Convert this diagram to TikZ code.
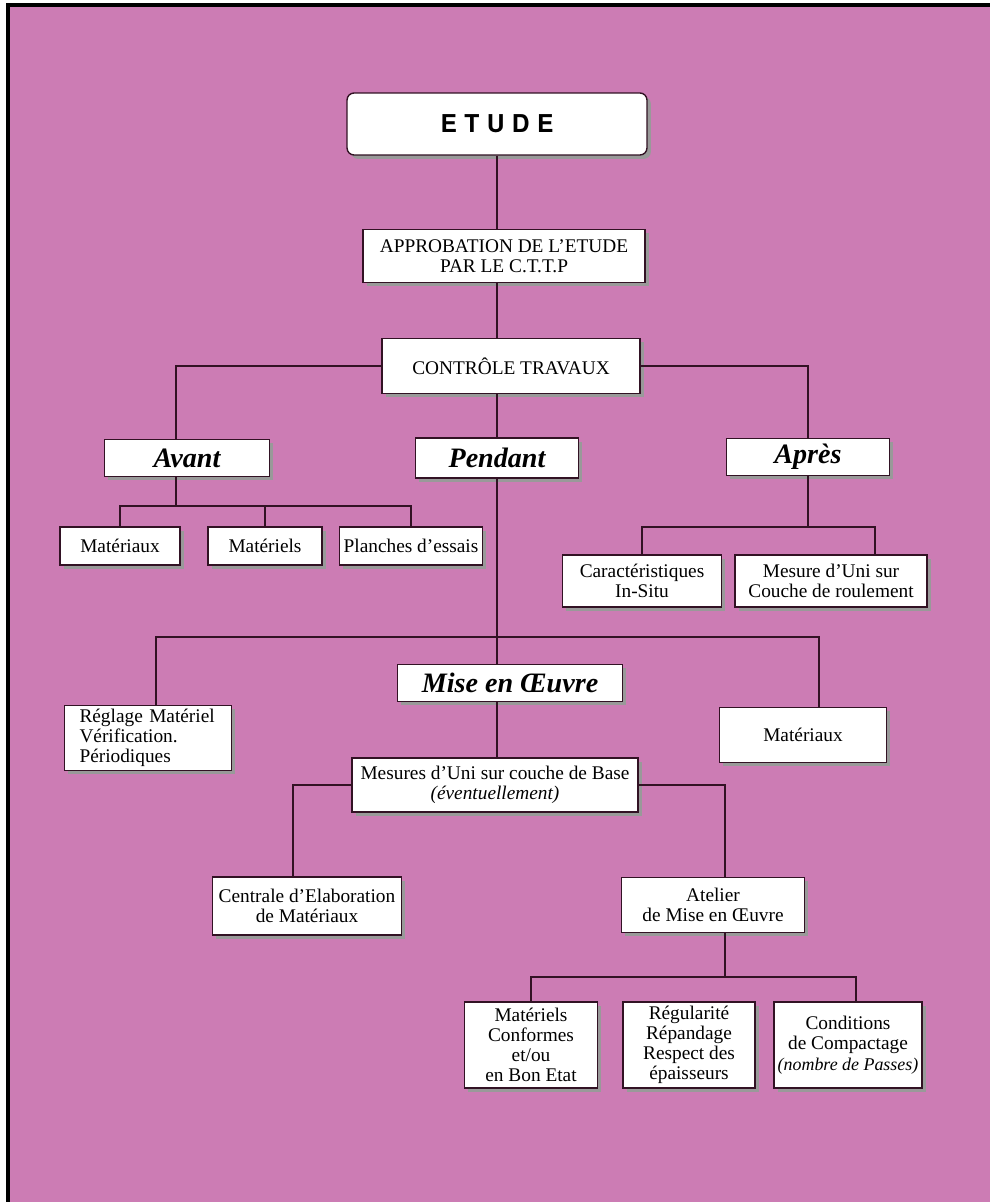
\documentclass[tikz,border=0pt]{standalone}
\usepackage{fontspec}
\setmainfont{Liberation Serif}
\newfontfamily\etudefont[LetterSpace=30]{TeX Gyre Heros}
\usetikzlibrary{positioning, shadows}
\definecolor{bgpink}{RGB}{204,124,180}
\definecolor{linecol}{RGB}{50,18,36}

\begin{document}
\begin{tikzpicture}[x=0.02cm, y=-0.02cm,
  box/.style={draw=linecol, line width=0.8pt, fill=white, align=center, inner sep=2pt,
    font=\fontsize{11}{11.5}\selectfont,
    drop shadow={shadow xshift=2.2pt, shadow yshift=-2.2pt, fill=black!40, opacity=1}},
  phase/.style={box, font=\fontsize{16}{18}\selectfont\bfseries\itshape},
  link/.style={draw=linecol, line width=1.2pt}]
\useasboundingbox (0,0) rectangle (990,1202);
\fill[white] (0,0) rectangle (990,1202);
\fill[bgpink] (8,5) rectangle (990,1202);
\draw[line width=2pt] (8,1202) -- (8,5) -- (990,5);

\node[box, rounded corners=4pt, minimum width=6cm, minimum height=1.24cm] (etude) at (497,124) {\etudefont\bfseries\fontsize{14}{16}\selectfont ETUDE};
\node[box, minimum width=5.64cm, minimum height=1.06cm] (approb) at (504,256) {APPROBATION DE L'ETUDE\\PAR LE C.T.T.P};
\node[box, minimum width=5.16cm, minimum height=1.1cm] (ctrl) at (511,366) {CONTRÔLE TRAVAUX};

\node[phase, minimum width=3.3cm, minimum height=0.74cm] (avant) at (187,458) {Avant};
\node[phase, minimum width=3.26cm, minimum height=0.8cm] (pendant) at (497,458) {Pendant};
\node[phase, minimum width=3.26cm, minimum height=0.74cm] (apres) at (808,457) {Après};

\node[box, minimum width=2.4cm, minimum height=0.76cm] (materiaux1) at (120,546) {Matériaux};
\node[box, minimum width=2.28cm, minimum height=0.76cm] (materiels) at (265,546) {Matériels};
\node[box, minimum width=2.86cm, minimum height=0.76cm] (planches) at (411,546) {Planches d'essais};

\node[box, minimum width=3.18cm, minimum height=1.04cm] (caract) at (642,581) {Caractéristiques\\In-Situ};
\node[box, minimum width=3.84cm, minimum height=1.04cm] (uni) at (831,581) {Mesure d'Uni sur\\Couche de roulement};

\node[phase, minimum width=4.5cm, minimum height=0.74cm] (mise) at (510,683) {Mise en Œuvre};
\node[box, align=left, text width=2.74cm, inner xsep=0.3cm, minimum height=1.14cm] (reglage) at (148,738) {Réglage Matériel\\Vérification.\\Périodiques};
\node[box, minimum width=3.34cm, minimum height=1.1cm] (materiaux2) at (803,735) {Matériaux};

\node[box, minimum width=5.72cm, minimum height=1.08cm] (mesures) at (495,785) {Mesures d'Uni sur couche de Base\\\textit{(éventuellement)}};
\node[box, minimum width=3.78cm, minimum height=1.16cm] (centrale) at (307,906) {Centrale d'Elaboration\\de Matériaux};
\node[box, minimum width=3.66cm, minimum height=1.1cm] (atelier) at (713,905) {Atelier\\de Mise en Œuvre};

\node[box, minimum width=2.66cm, minimum height=1.72cm] (conformes) at (531,1045) {Matériels\\Conformes\\et/ou\\en Bon Etat};
\node[box, minimum width=2.64cm, minimum height=1.72cm] (regularite) at (689,1045) {Régularité\\Répandage\\Respect des\\épaisseurs};
\node[box, minimum width=2.78cm, minimum height=1.72cm] (conditions) at (848,1045) {Conditions\\de Compactage\\{\fontsize{10.2}{11.5}\selectfont\itshape (nombre de Passes)}};

\coordinate (avbar) at (176,506);
\coordinate (apbar) at (808,527);
\coordinate (pebar) at (497,637);
\coordinate (atbar) at (725,977);

\draw[link] (etude.south) -- (etude.south |- approb.north);
\draw[link] (approb.south -| etude.south) -- (ctrl.north -| etude.south);
\draw[link] (ctrl.south -| pendant.north) -- (pendant.north);
\draw[link] (ctrl.west) -| (avant.north -| avbar);
\draw[link] (ctrl.east) -| (apres.north);

\draw[link] (avant.south -| avbar) -- (avbar);
\draw[link] (materiaux1.north) |- (avbar) -| (planches.north);
\draw[link] (materiels.north) -- (materiels.north |- avbar);

\draw[link] (apres.south) -- (apbar);
\draw[link] (caract.north) |- (apbar) -| (uni.north -| 875,0);

\draw[link] (pendant.south) -- (mise.north -| pendant.south);
\draw[link] (mise.south -| pendant.south) -- (mesures.north -| pendant.south);
\draw[link] (reglage.north -| 156,0) |- (pebar) -| (materiaux2.north -| 819,0);

\draw[link] (mesures.west) -| (centrale.north -| 293,0);
\draw[link] (mesures.east) -| (atelier.north -| atbar);
\draw[link] (atelier.south -| atbar) -- (atbar);
\draw[link] (conformes.north) |- (atbar) -| (conditions.north -| 856,0);
\end{tikzpicture}
\end{document}
